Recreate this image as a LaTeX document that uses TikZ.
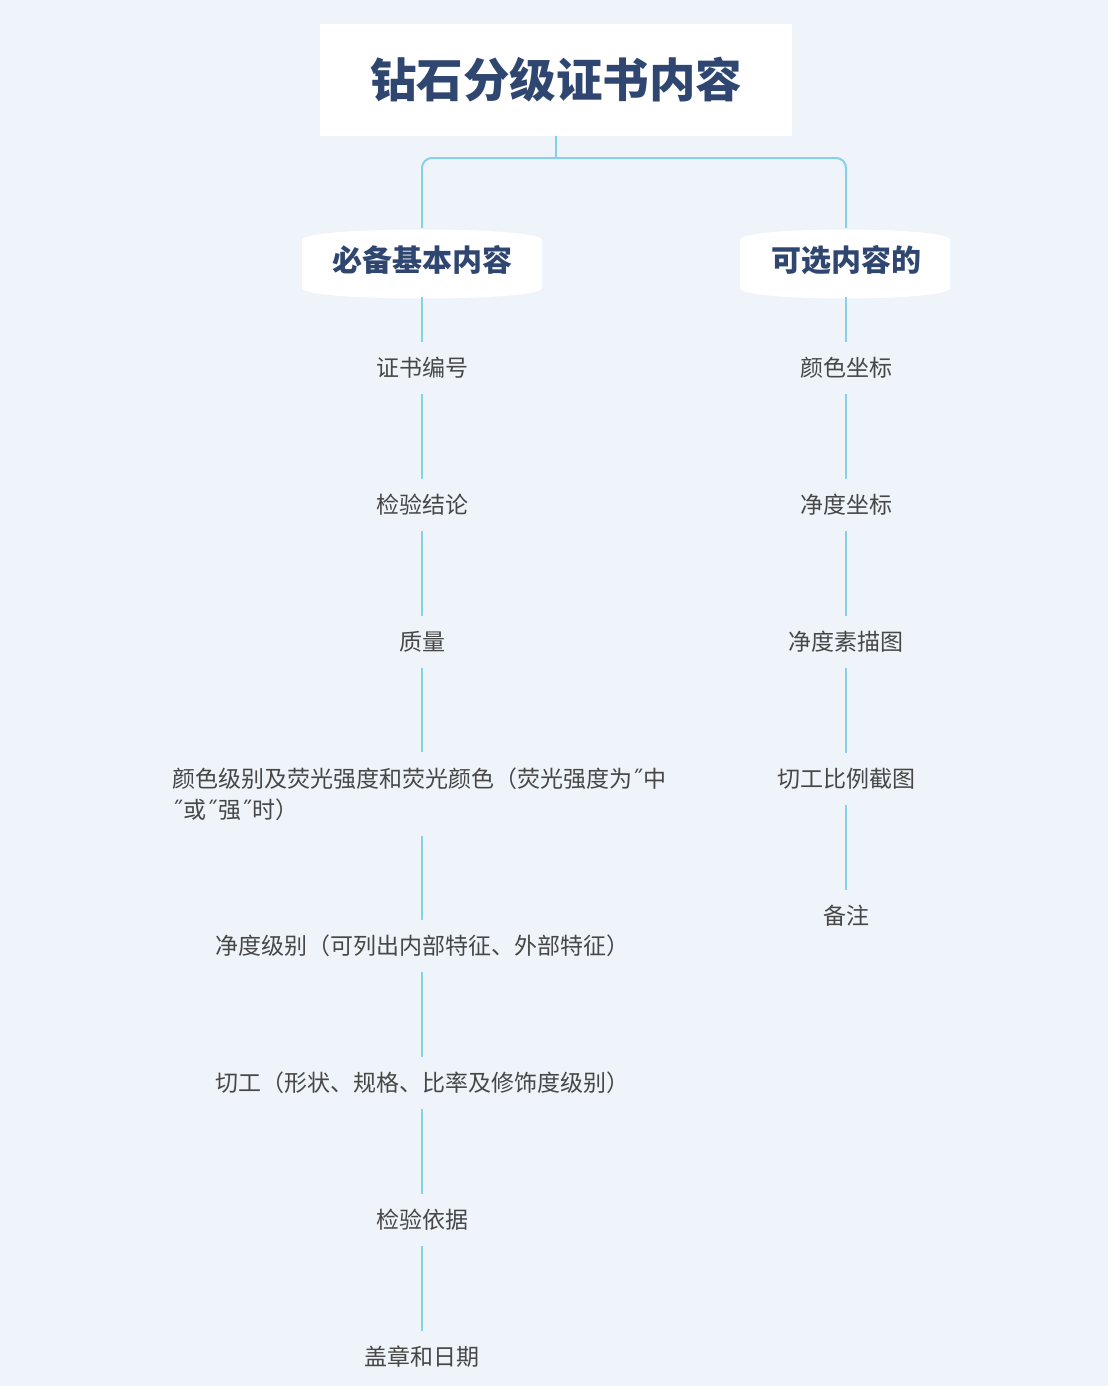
\documentclass[tikz,border=0pt]{standalone}
\usepackage{fontspec}
\setmainfont{Noto Sans CJK SC}
\newfontfamily\dvq{DejaVu Sans}
\newcommand{\qm}{{\dvq\char"02DD}}
\begin{document}
\begin{tikzpicture}[x=1pt,y=-1pt,
  item/.style={font=\fontsize{23}{31}\selectfont, text=black!72, inner sep=0pt, minimum height=48pt},
  head/.style={font=\fontsize{30}{34}\selectfont\bfseries, text=hd}]
\definecolor{bg}{HTML}{EEF4F9}
\definecolor{ln}{HTML}{86D0E8}
\definecolor{hd}{HTML}{2F4770}
\fill[bg] (0,0) rectangle (1108,1386);
\useasboundingbox (0,0) rectangle (1108,1386);
% title
\node[fill=white, minimum width=472pt, minimum height=112pt, inner sep=0pt,
  font=\fontsize{46.5}{52}\selectfont\bfseries, text=hd] (title) at (556,80) {钻石分级证书内容};
% header shapes
\fill[white] (302,240) .. controls (302,226) and (542,226) .. (542,240) -- (542,288)
  .. controls (542,302) and (302,302) .. (302,288) -- cycle;
\fill[white] (740,240) .. controls (740,226) and (950,226) .. (950,240) -- (950,288)
  .. controls (950,302) and (740,302) .. (740,288) -- cycle;
\node[head, minimum width=240pt, minimum height=70pt, inner sep=0pt] (L) at (422,260) {必备基本内容};
\node[head, minimum width=210pt, minimum height=70pt, inner sep=0pt] (R) at (846,260) {可选内容的};
\coordinate (j) at (556,158);
\coordinate (jl) at (422,228);
\coordinate (jr) at (846,228);
\draw[draw=ln, line width=2pt] (title.south) -- (j);
\draw[draw=ln, line width=2pt, rounded corners=10pt] (jl) |- (j) -| (jr);
% left column
\node[item] (l1) at (422,368) {证书编号};
\node[item] (l2) at (422,505) {检验结论};
\node[item] (l3) at (422,642) {质量};
\node[item, text width=500pt, align=left, minimum height=80pt] (l4) at (422,794) {颜色级别及荧光强度和荧光颜色（荧光强度为\qm 中\\\qm 或\qm 强\qm 时）};
\node[item] (l5) at (422,946) {净度级别（可列出内部特征、外部特征）};
\node[item] (l6) at (422,1083) {切工（形状、规格、比率及修饰度级别）};
\node[item] (l7) at (422,1220) {检验依据};
\node[item] (l8) at (422,1357) {盖章和日期};
% right column
\node[item] (r1) at (846,368) {颜色坐标};
\node[item] (r2) at (846,505) {净度坐标};
\node[item] (r3) at (846,642) {净度素描图};
\node[item] (r4) at (846,779) {切工比例截图};
\node[item] (r5) at (846,916) {备注};
\foreach \a/\b in {L/l1,l1/l2,l2/l3,l3/l4,l4/l5,l5/l6,l6/l7,l7/l8,R/r1,r1/r2,r2/r3,r3/r4,r4/r5}
  \draw[draw=ln, line width=2pt] ([yshift=-2pt]\a.south) -- ([yshift=2pt]\b.north);
\end{tikzpicture}
\end{document}
